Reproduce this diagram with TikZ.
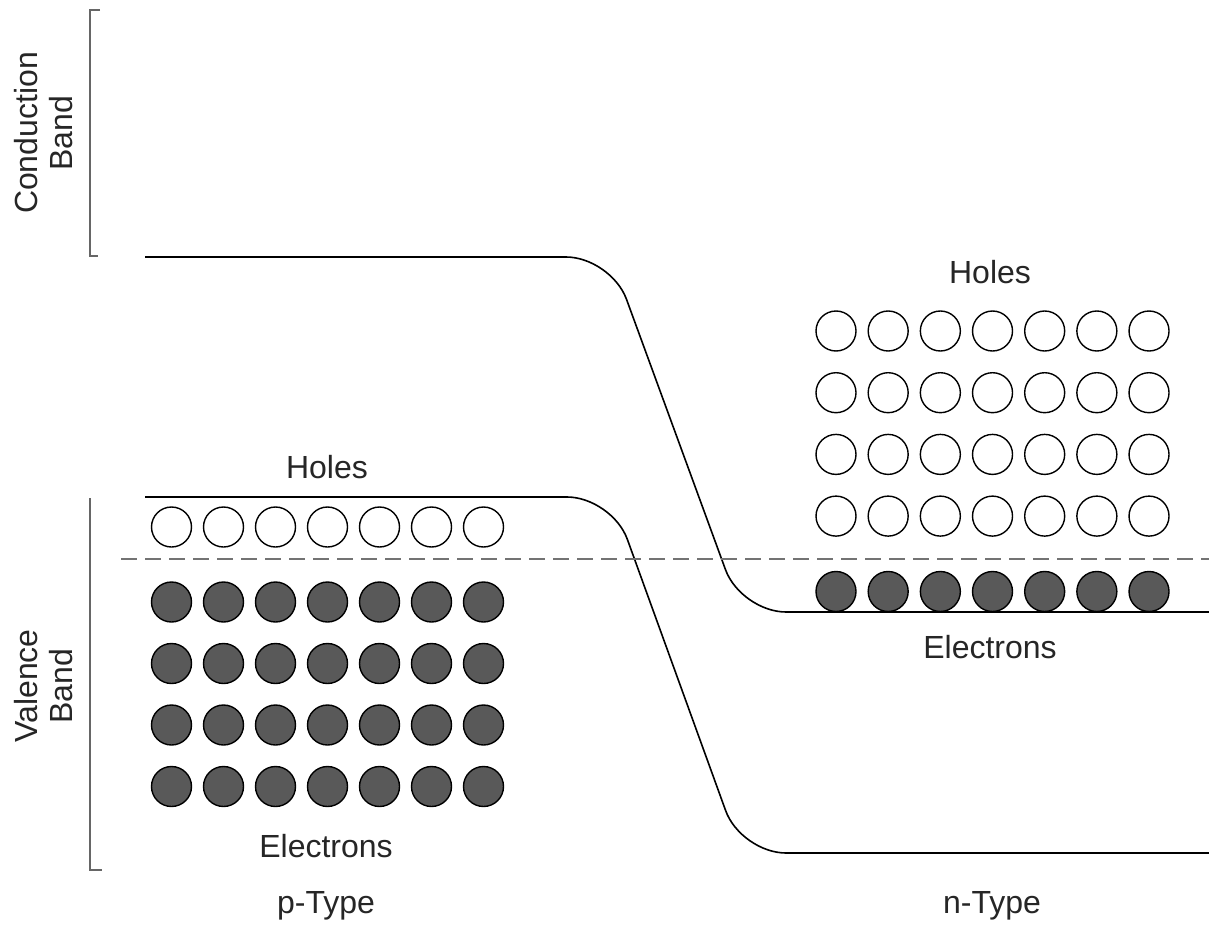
\documentclass[tikz,border=0pt]{standalone}
\usepackage{fontspec}
\setmainfont{Liberation Sans}
\usepackage{tikz}
\usetikzlibrary{positioning}
\usetikzlibrary{shapes,arrows,calc}

\begin{document}
\begin{tikzpicture}[x=0.5pt, y=-0.5pt,
    lbl/.style={font=\fontsize{16}{17.5}\selectfont, text=black!85, anchor=base, inner sep=0pt},
    side/.style={font=\fontsize{16}{17.5}\selectfont, text=black!85, rotate=90, align=center, inner sep=0pt},
    hole/.style={draw, circle, line width=0.7pt, fill=white, minimum size=20pt, inner sep=0pt},
    elec/.style={draw, circle, line width=0.7pt, fill=black!65, minimum size=20pt, inner sep=0pt},
    bracket/.style={draw=black!60, line width=1pt},
    band/.style={draw, line width=0.8pt, rounded corners=22.5pt},
    fermi/.style={draw=black!55, line width=1.3pt, dash pattern=on 8pt off 4pt}]
    \useasboundingbox (0,0) rectangle (1209,925);

    % Band labels
    \node [side] (cond) at (44,133) {Conduction\\Band};
    \node [side] (val) at (44,686) {Valence\\Band};
    \draw [bracket] (100,10) -- (90,10) -- (90,256) -- (98,256);
    \draw [bracket] (90,498) -- (90,870) -- (102,870);

    % Band edges
    \draw [band] (145,257) -- (611,257) -- (741,612) -- (1209,612);
    \draw [band] (145,497) -- (612,497) -- (741,853) -- (1209,853);
    \draw [fermi] (121,559) -- (1209,559);

    % p side
    \foreach \i in {0,...,6} {
        \node [hole] (ph\i) at (171.5+52*\i,527) {};
        \foreach \j in {0,...,3}
            \node [elec] (pe\i-\j) at (171.5+52*\i,602+61.5*\j) {};
    }
    \node [lbl] (pholes) at (327,478) {Holes};
    \node [lbl] (pelec) at (326,857) {Electrons};
    \node [lbl] (ptype) at (326,913) {p-Type};

    % n side
    \foreach \i in {0,...,6} {
        \node [elec] (ne\i) at (836+52.17*\i,591.5) {};
        \foreach \j in {0,...,3}
            \node [hole] (nh\i-\j) at (836+52.17*\i,331+61.7*\j) {};
    }
    \node [lbl] (nholes) at (990,283) {Holes};
    \node [lbl] (nelec) at (990,658) {Electrons};
    \node [lbl] (ntype) at (992,913) {n-Type};
\end{tikzpicture}
\end{document}
